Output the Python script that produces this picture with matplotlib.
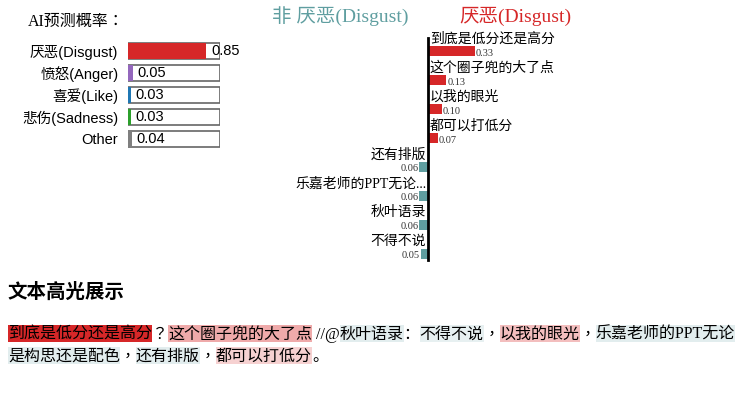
import matplotlib
matplotlib.use('Agg')
import matplotlib.pyplot as plt
from matplotlib.patches import Rectangle
import numpy as np

# class probabilities (left panel)
classes = ["厌恶(Disgust)", "愤怒(Anger)", "喜爱(Like)", "悲伤(Sadness)", "Other"]
probs = [0.85, 0.05, 0.03, 0.03, 0.04]
class_colors = ["#d62728", "#9467bd", "#1f77b4", "#2ca02c", "#7f7f7f"]

# feature weights (middle panel)
features = ["到底是低分还是高分", "这个圈子兜的大了点", "以我的眼光", "都可以打低分",
            "还有排版", "乐嘉老师的PPT无论...", "秋叶语录", "不得不说"]
weights = [0.33, 0.13, 0.10, 0.07, -0.06, -0.06, -0.06, -0.05]

# highlighted text, segment -> feature index (None = no highlight)
line1_text = ["到底是低分还是高分", "？", "这个圈子兜的大了点", " //@", "秋叶语录", "：",
              "不得不说", "，", "以我的眼光", "，", "乐嘉老师的PPT无论"]
line1_feat = [0, None, 1, None, 6, None, 7, None, 2, None, 5]
line2_text = ["是构思还是配色", "，", "还有排版", "，", "都可以打低分", "。"]
line2_feat = [5, None, 4, None, 3, None]

RED = "#d62728"
TEAL = "#5f9ea0"
SANS = ["Liberation Sans", "Noto Sans CJK SC", "DejaVu Sans"]
SERIF = ["Liberation Serif", "Noto Sans CJK SC", "DejaVu Sans"]
SERIF_TC = ["Liberation Serif", "Noto Sans CJK TC", "DejaVu Sans"]
CJK = ["Noto Sans CJK SC", "Liberation Serif", "DejaVu Sans"]

W, H = 750, 400
fig = plt.figure(figsize=(7.5, 4), dpi=100)


def px(x, y):
    return x / W, 1 - y / H


def add_axes_px(x0, y0, x1, y1):
    return fig.add_axes([x0 / W, 1 - y1 / H, (x1 - x0) / W, (y1 - y0) / H])


# ---- left: prediction probabilities ----
fig.text(*px(28, 22), "AI预测概率：", family=["Liberation Serif", "Noto Sans CJK JP"],
         fontsize=11.5, va="center")
ax1 = add_axes_px(128, 40, 220, 150)
ypos = np.arange(len(classes))
ax1.barh(ypos, [1] * len(classes), height=0.73, color="white", edgecolor="#666666", linewidth=1.2)
ax1.barh(ypos, probs, height=0.73, color=class_colors)
for y, p in zip(ypos, probs):
    ax1.text(p + 0.055, y, f"{p:.2f}", va="center", ha="left", fontsize=10.5, family=SANS)
ax1.set_xlim(0, 1)
ax1.set_ylim(len(classes) - 0.5, -0.5)
ax1.set_yticks(ypos)
ax1.set_yticklabels(classes, family=SANS, fontsize=10.5)
ax1.tick_params(axis="y", length=0, pad=7)
ax1.set_xticks([])
for s in ax1.spines.values():
    s.set_visible(False)

# ---- middle: feature weights ----
fig.text(*px(340, 16), "非 厌恶(Disgust)", family=SERIF, fontsize=14, color=TEAL,
         ha="center", va="center")
fig.text(*px(515, 16), "厌恶(Disgust)", family=SERIF, fontsize=14, color=RED,
         ha="center", va="center")
ax2 = add_axes_px(286, 36, 570, 262)
fpos = np.arange(len(features))
bar_colors = [RED if w > 0 else TEAL for w in weights]
ax2.barh(fpos, weights, height=0.345, color=bar_colors)
ax2.axvline(0, ymin=0.01, ymax=0.99, color="black", lw=2)
for y, w, name in zip(fpos, weights, features):
    if w > 0:
        ax2.text(0.012, y - 0.42, name, ha="left", va="center", fontsize=10, family=SERIF)
        ax2.text(w + 0.005, y + 0.08, f"{w:.2f}", ha="left", va="center",
                 fontsize=7.5, family=SERIF, color="#333333")
    else:
        ax2.text(-0.012, y - 0.42, name, ha="right", va="center", fontsize=10, family=SERIF)
        ax2.text(w - 0.007, y + 0.05, f"{abs(w):.2f}", ha="right", va="center",
                 fontsize=7.5, family=SERIF, color="#333333")
ax2.set_xlim(-1, 1)
ax2.set_ylim(len(features) - 0.72, -0.52)
ax2.axis("off")

# ---- bottom: highlighted text ----
fig.text(*px(8, 292), "文本高光展示", family=CJK, fontsize=14, fontweight="bold", va="center")

max_w = max(abs(w) for w in weights)


def seg_color(idx):
    w = weights[idx]
    base = np.array(matplotlib.colors.to_rgb(RED if w > 0 else TEAL))
    a = abs(w) / max_w
    return tuple(1 - a * (1 - base))


renderer = fig.canvas.get_renderer()


def draw_line(texts, feats, x0, y, box_h=17):
    x = x0
    for s, f in zip(texts, feats):
        fam = SERIF_TC if s in ("，", "？") else SERIF
        t = fig.text(x / W, 1 - (y + 5.5) / H, s, family=fam, fontsize=11.5,
                     va="baseline", ha="left", zorder=3)
        bb = t.get_window_extent(renderer)
        if f is not None:
            fig.add_artist(Rectangle((x / W, 1 - (y + box_h / 2) / H), bb.width / W, box_h / H,
                                     transform=fig.transFigure, facecolor=seg_color(f),
                                     edgecolor="none", zorder=1))
        x += bb.width


draw_line(line1_text, line1_feat, 8, 333.5)
draw_line(line2_text, line2_feat, 8, 355)

fig.savefig("out.png", dpi=100)
